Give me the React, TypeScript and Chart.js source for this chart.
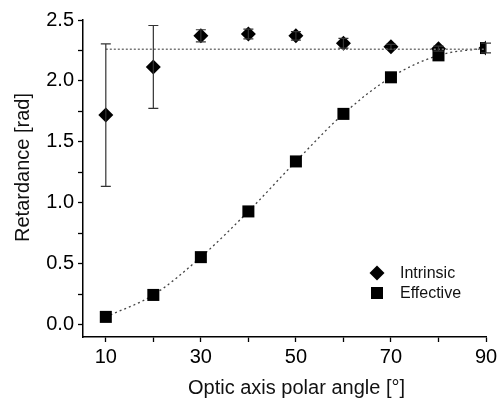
import React, { useEffect, useRef } from "react";
import { Chart, registerables } from "chart.js";

Chart.register(...registerables);

const angles = [10, 20, 30, 40, 50, 60, 70, 80, 90];
const intrinsic = [1.72, 2.115, 2.37, 2.385, 2.37, 2.31, 2.28, 2.265, 2.27];
const intrinsicErr = [0.585, 0.34, 0.05, 0.04, 0.035, 0.04, 0.02, 0.02, 0.04];
const effective = [0.065, 0.245, 0.555, 0.93, 1.34, 1.73, 2.03, 2.21, 2.27];
const plateau = 2.26;
const yTicks = [0, 0.25, 0.5, 0.75, 1, 1.25, 1.5, 1.75, 2, 2.25, 2.5];
const xTicks = [10, 20, 30, 40, 50, 60, 70, 80, 90];
const xLabels = [10, 30, 50, 70, 90];
const yLabels = [0, 0.5, 1, 1.5, 2, 2.5];
const legendNames = ["Intrinsic", "Effective"];
const xTitle = "Optic axis polar angle [°]";
const yTitle = "Retardance [rad]";

const FONT = "'Liberation Sans', Arial, sans-serif";

export default function App() {
  const ref = useRef<HTMLCanvasElement | null>(null);
  useEffect(() => {
    if (!ref.current) return;
    const errorBars = {
      id: "errorBars",
      afterDatasetsDraw(chart: any) {
        const { ctx, scales } = chart;
        const xs = scales.x, ys = scales.y;
        ctx.save();
        ctx.strokeStyle = "#333";
        ctx.lineWidth = 1.2;
        angles.forEach((a, i) => {
          const px = xs.getPixelForValue(a);
          const top = ys.getPixelForValue(intrinsic[i] + intrinsicErr[i]);
          const bot = ys.getPixelForValue(intrinsic[i] - intrinsicErr[i]);
          ctx.beginPath();
          ctx.moveTo(px, top);
          ctx.lineTo(px, bot);
          ctx.moveTo(px - 5, top);
          ctx.lineTo(px + 5, top);
          ctx.moveTo(px - 5, bot);
          ctx.lineTo(px + 5, bot);
          ctx.stroke();
        });
        ctx.restore();
      },
    };
    const legendPlugin = {
      id: "customLegend",
      afterDraw(chart: any) {
        const { ctx, chartArea } = chart;
        const x = chartArea.right - 109;
        const y0 = chartArea.bottom - 64;
        ctx.save();
        ctx.fillStyle = "#000";
        ctx.beginPath();
        ctx.moveTo(x - 7.5, y0);
        ctx.lineTo(x, y0 - 7.5);
        ctx.lineTo(x + 7.5, y0);
        ctx.lineTo(x, y0 + 7.5);
        ctx.closePath();
        ctx.fill();
        ctx.fillRect(x - 6, y0 + 20 - 6, 12, 12);
        ctx.font = `16px ${FONT}`;
        ctx.textBaseline = "middle";
        ctx.fillStyle = "#111";
        ctx.fillText(legendNames[0], x + 23, y0 + 1);
        ctx.fillText(legendNames[1], x + 23, y0 + 21);
        // axis titles
        ctx.font = `20px ${FONT}`;
        ctx.textAlign = "center";
        ctx.fillText(xTitle, (chartArea.left + chartArea.right) / 2 + 12, chart.height - 10);
        ctx.translate(23, (chartArea.top + chartArea.bottom) / 2 - 11);
        ctx.rotate(-Math.PI / 2);
        ctx.fillText(yTitle, 0, 0);
        ctx.restore();
      },
    };
    const chart = new Chart(ref.current, {
      type: "scatter",
      data: {
        datasets: [
          {
            label: "plateau",
            data: [
              { x: 10, y: plateau },
              { x: 90, y: plateau },
            ],
            showLine: true,
            borderColor: "#777",
            borderWidth: 1.5,
            borderDash: [2, 2],
            pointRadius: 0,
          },
          {
            label: legendNames[1],
            data: angles.map((a, i) => ({ x: a, y: effective[i] })),
            showLine: true,
            borderColor: "#444",
            borderWidth: 1.3,
            borderDash: [2, 3],
            cubicInterpolationMode: "monotone",
            pointStyle: "rect",
            pointRadius: 8.5,
            backgroundColor: "#000",
            pointBackgroundColor: "#000",
            pointBorderColor: "#000",
            pointBorderWidth: 0,
          },
          {
            label: legendNames[0],
            data: angles.map((a, i) => ({ x: a, y: intrinsic[i] })),
            showLine: false,
            pointStyle: "rectRot",
            pointRadius: 7.5,
            pointBackgroundColor: "#000",
            pointBorderColor: "#000",
            pointBorderWidth: 0,
          },
        ],
      },
      options: {
        animation: false,
        responsive: false,
        layout: { padding: { top: 20, right: 11, left: 0, bottom: 0 } },
        plugins: { legend: { display: false }, tooltip: { enabled: false } },
        scales: {
          x: {
            type: "linear",
            min: 5.2,
            max: 90,
            afterBuildTicks: (s: any) => {
              s.ticks = xTicks.map((v) => ({ value: v }));
            },
            afterFit: (s: any) => {
              s.height = 61;
              s.paddingRight = 0;
              s.paddingLeft = 0;
            },
            ticks: {
              autoSkip: false,
              maxRotation: 0,
              color: "#000",
              font: { family: FONT, size: 20 },
              padding: 3,
              callback: (v: any) => (xLabels.includes(Number(v)) ? String(v) : ""),
            },
            grid: { drawOnChartArea: false, tickLength: 5, tickColor: "#000", tickWidth: 1.3 },
            border: { display: true, color: "#000", width: 1.5 },
            title: { display: false },
          },
          y: {
            type: "linear",
            min: -0.1,
            max: 2.5,
            afterBuildTicks: (s: any) => {
              s.ticks = yTicks.map((v) => ({ value: v }));
            },
            afterFit: (s: any) => {
              s.width = 83;
              s.paddingTop = 0;
              s.paddingBottom = 0;
            },
            ticks: {
              autoSkip: false,
              color: "#000",
              font: { family: FONT, size: 20 },
              padding: 4,
              callback: (v: any) =>
                yLabels.some((l) => Math.abs(l - Number(v)) < 1e-6) ? Number(v).toFixed(1) : "",
            },
            grid: { drawOnChartArea: false, tickLength: 5, tickColor: "#000", tickWidth: 1.3 },
            border: { display: true, color: "#000", width: 1.5 },
            title: { display: false },
          },
        },
      },
      plugins: [errorBars, legendPlugin],
    } as any);
    return () => chart.destroy();
  }, []);
  return (
    <div style={{ position: "fixed", left: 0, top: 0, width: 497, height: 398, background: "#fff" }}>
      <canvas ref={ref} width={497} height={398} />
    </div>
  );
}
